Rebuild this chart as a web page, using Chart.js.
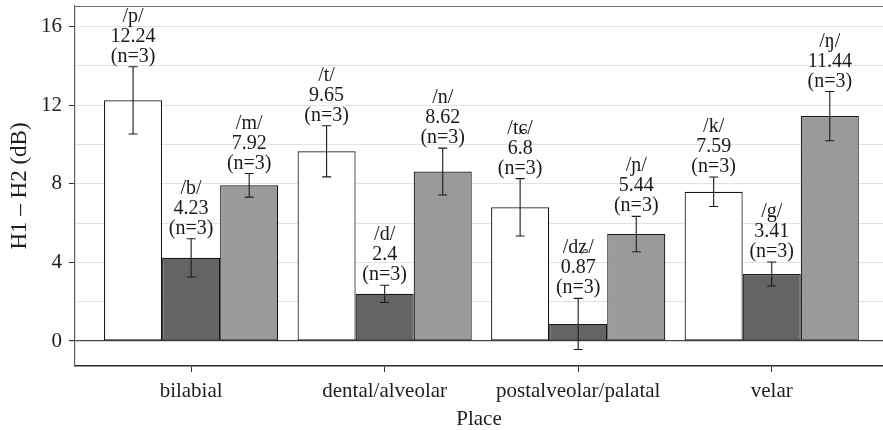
<!DOCTYPE html>
<html>
<head>
<meta charset="utf-8">
<script src="https://cdn.jsdelivr.net/npm/chart.js@4.4.1/dist/chart.umd.min.js"></script>
<style>
  html, body { margin: 0; padding: 0; background: #ffffff; overflow: hidden; }
  #wrap { width: 883px; height: 430px; }
</style>
</head>
<body>
<div id="wrap"><canvas id="chart" width="883" height="430"></canvas></div>
<script>
// Places of articulation along the x axis
const places = ['bilabial', 'dental/alveolar', 'postalveolar/palatal', 'velar'];

// Mean H1 - H2 (dB) per place, one array per manner
const voicelessMeans = [12.24, 9.65, 6.8, 7.59];
const voicedMeans = [4.23, 2.4, 0.87, 3.41];
const nasalMeans = [7.92, 8.62, 5.44, 11.44];

// Half-widths of the error bars
const voicelessErr = [1.71, 1.30, 1.46, 0.75];
const voicedErr = [0.97, 0.44, 1.30, 0.61];
const nasalErr = [0.60, 1.19, 0.90, 1.25];

// Segment labels printed over each bar
const voicelessSegs = ['/p/', '/t/', '/tɕ/', '/k/'];
const voicedSegs = ['/b/', '/d/', '/dʑ/', '/g/'];
const nasalSegs = ['/m/', '/n/', '/ɲ/', '/ŋ/'];
const sampleSizes = [3, 3, 3, 3];

// Y axis tick values (labels only every 4 dB)
const yTicks = [0, 2, 4, 6, 8, 10, 12, 14, 16];

const FONT = '"Liberation Serif", "Times New Roman", serif';

const series = [
  { label: 'voiceless', means: voicelessMeans, err: voicelessErr, segs: voicelessSegs, fill: '#ffffff' },
  { label: 'voiced', means: voicedMeans, err: voicedErr, segs: voicedSegs, fill: '#646464' },
  { label: 'nasal', means: nasalMeans, err: nasalErr, segs: nasalSegs, fill: '#9a9a9a' }
];

const datasets = series.map(s => ({
  label: s.label,
  data: s.means.map((v, i) => ({ x: i + 1, y: v })),
  backgroundColor: s.fill,
  borderColor: '#151515',
  borderWidth: 1.2,
  borderSkipped: false,
  errors: s.err,
  segs: s.segs,
  categoryPercentage: 0.9,
  barPercentage: 1.0
}));

// Error bars and the three-line value labels above them
const errorBarPlugin = {
  id: 'errorBars',
  afterDatasetsDraw(chart) {
    const { ctx } = chart;
    const yScale = chart.scales.y;
    chart.data.datasets.forEach((ds, di) => {
      const meta = chart.getDatasetMeta(di);
      meta.data.forEach((bar, i) => {
        const v = ds.data[i].y;
        const e = ds.errors[i];
        const yTop = yScale.getPixelForValue(v + e);
        const yBot = yScale.getPixelForValue(v - e);
        const x = bar.x;
        const cap = 4.5;
        ctx.save();
        ctx.strokeStyle = '#1a1a1a';
        ctx.lineWidth = 1.1;
        ctx.beginPath();
        ctx.moveTo(x, yTop); ctx.lineTo(x, yBot);
        ctx.moveTo(x - cap, yTop); ctx.lineTo(x + cap, yTop);
        ctx.moveTo(x - cap, yBot); ctx.lineTo(x + cap, yBot);
        ctx.stroke();

        ctx.fillStyle = '#1a1a1a';
        ctx.font = '20px ' + FONT;
        ctx.textAlign = 'center';
        ctx.textBaseline = 'alphabetic';
        const base = yTop - 5;
        const lines = [ds.segs[i], String(v), '(n=' + sampleSizes[i] + ')'];
        lines.forEach((t, k) => {
          ctx.fillText(t, x, base - (2 - k) * 20);
        });
        ctx.restore();
      });
    });
  }
};

// Panel top edge
const frameTopPlugin = {
  id: 'frameTop',
  afterDraw(chart) {
    const { ctx, chartArea } = chart;
    ctx.save();
    ctx.strokeStyle = '#707070';
    ctx.lineWidth = 1.2;
    ctx.beginPath();
    ctx.moveTo(chartArea.left, chartArea.top + 0.5);
    ctx.lineTo(chartArea.right, chartArea.top + 0.5);
    ctx.stroke();
    ctx.restore();
  }
};

new Chart(document.getElementById('chart'), {
  type: 'bar',
  data: { datasets },
  options: {
    responsive: false,
    animation: false,
    layout: { padding: { top: 6, right: 0, left: 0, bottom: 0 } },
    plugins: { legend: { display: false }, tooltip: { enabled: false } },
    scales: {
      x: {
        type: 'linear',
        offset: false,
        min: 0.4,
        max: 4.575,
        afterBuildTicks(axis) { axis.ticks = places.map((p, i) => ({ value: i + 1 })); },
        afterFit(axis) { axis.height = 64; axis.paddingLeft = 0; axis.paddingRight = 0; },
        grid: { offset: false, drawOnChartArea: false, drawTicks: true, tickLength: 6, color: '#333333', lineWidth: 1 },
        border: { display: true, color: '#2a2a2a', width: 1.6 },
        ticks: {
          autoSkip: false,
          maxRotation: 0,
          padding: 7,
          color: '#1e1e1e',
          font: { family: FONT, size: 21 },
          callback: v => places[v - 1]
        },
        title: { display: true, text: 'Place', color: '#1e1e1e', font: { family: FONT, size: 21, lineHeight: 1.0 }, padding: { top: 0, bottom: 0 } }
      },
      y: {
        type: 'linear',
        min: -1.27,
        max: 17.04,
        afterBuildTicks(axis) { axis.ticks = yTicks.map(v => ({ value: v })); },
        afterFit(axis) { axis.width = 75; axis.paddingTop = 0; axis.paddingBottom = 0; },
        grid: {
          drawTicks: true,
          tickLength: 6,
          color: ctx => (ctx.tick && ctx.tick.value === 0) ? '#4a4a4a' : '#e3e3e3',
          lineWidth: ctx => (ctx.tick && ctx.tick.value === 0) ? 1.2 : 1,
          tickColor: ctx => (ctx.tick && ctx.tick.value % 4 === 0) ? '#333333' : 'rgba(0,0,0,0)'
        },
        border: { display: true, color: '#5a5a5a', width: 1.2 },
        ticks: {
          autoSkip: false,
          padding: 7,
          color: '#1e1e1e',
          font: { family: FONT, size: 21 },
          callback: v => (v % 4 === 0 ? String(v) : '')
        },
        title: { display: true, text: 'H1 – H2 (dB)', color: '#1e1e1e', font: { family: FONT, size: 23, lineHeight: 1.0 }, padding: { top: 8, bottom: 0 } }
      }
    }
  },
  plugins: [errorBarPlugin, frameTopPlugin]
});
</script>
</body>
</html>
